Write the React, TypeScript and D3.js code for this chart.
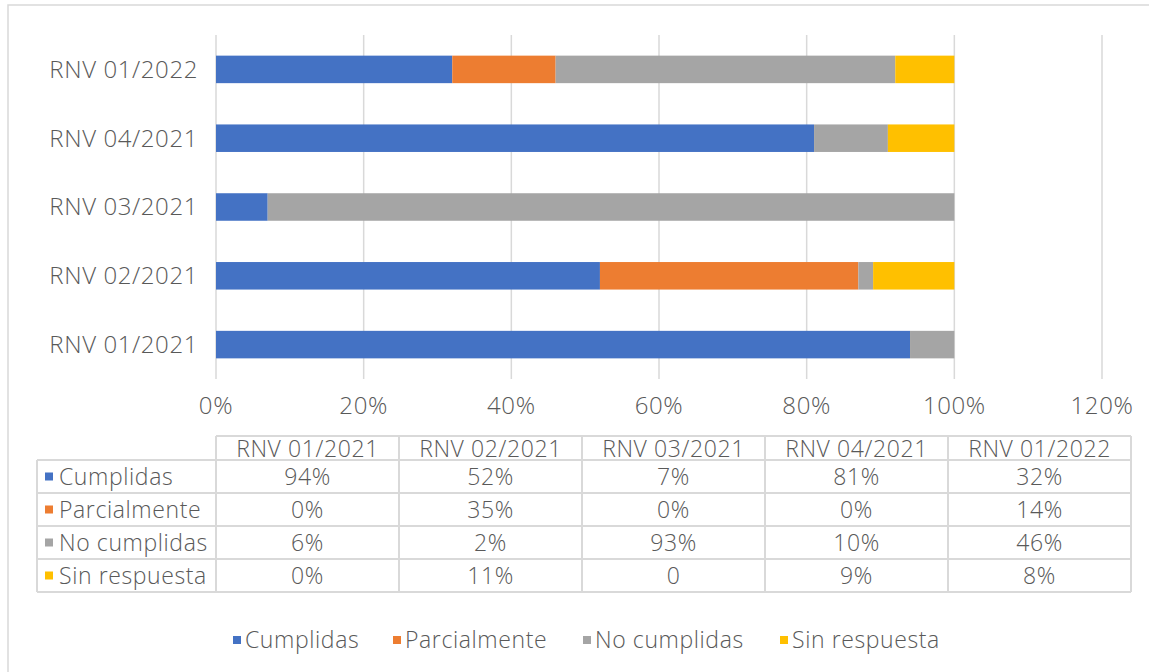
import * as d3 from 'd3'

const CATEGORIES = ['RNV 01/2021', 'RNV 02/2021', 'RNV 03/2021', 'RNV 04/2021', 'RNV 01/2022']
const SERIES = ['Cumplidas', 'Parcialmente', 'No cumplidas', 'Sin respuesta']
const COLORS = ['#4472C4', '#ED7D31', '#A5A5A5', '#FFC000']

const CUMPLIDAS = [94, 52, 7, 81, 32]
const PARCIALMENTE = [0, 35, 0, 0, 14]
const NO_CUMPLIDAS = [6, 2, 93, 10, 46]
const SIN_RESPUESTA = [0, 11, 0, 9, 8]
// table labels as printed (one cell shows a bare "0")
const SIN_RESPUESTA_LABELS = ['0%', '11%', '0', '9%', '8%']

const X_TICKS = [0, 20, 40, 60, 80, 100, 120]

const FONT = "'Open Sans', sans-serif"
const TEXT = '#595959'
const GRID = '#d9d9d9'

export default function App() {
  const width = 1149
  const height = 672

  const x = d3.scaleLinear().domain([0, 120]).range([216, 1102])
  // top category drawn first in Excel bar charts
  const y = d3.scaleBand()
    .domain([...CATEGORIES].reverse())
    .range([35, 379])
    .paddingInner(0.6)
    .paddingOuter(0.3)

  const rows = CATEGORIES.map((c, i) => ({
    cat: c,
    vals: [CUMPLIDAS[i], PARCIALMENTE[i], NO_CUMPLIDAS[i], SIN_RESPUESTA[i]]
  }))
  const stack = d3.stack<any>().keys(['0', '1', '2', '3']).value((d, k) => d.vals[+k])(rows)

  const tableLabels = [
    CUMPLIDAS.map(v => `${v}%`),
    PARCIALMENTE.map(v => `${v}%`),
    NO_CUMPLIDAS.map(v => `${v}%`),
    SIN_RESPUESTA_LABELS
  ]

  // data table geometry
  const colX = d3.scaleBand().domain(CATEGORIES).range([216, 1131])
  const headTop = 436
  const headBot = 460
  const rowY = d3.scaleBand().domain(SERIES).range([headBot, 592])
  const labelLeft = 37

  const legendX = [233, 393, 583, 780]

  const txt = { fontWeight: 300, fill: TEXT, letterSpacing: 0.6 }

  return (
    <svg width={width} height={height} style={{ position: 'absolute', left: 0, top: 0 }} fontFamily={FONT}>
      <rect x={0} y={0} width={width} height={height} fill="white" />
      <rect x={8} y={5} width={width + 10} height={height + 10} fill="white" stroke={GRID} strokeWidth={1.5} />

      {/* gridlines */}
      {X_TICKS.map(t => (
        <line key={t} x1={x(t)} x2={x(t)} y1={35} y2={379} stroke={GRID} strokeWidth={1.5} />
      ))}

      {/* bars */}
      {stack.map((s, si) => (
        <g key={si} fill={COLORS[si]}>
          {s.map((d, i) => (
            <rect key={i} x={x(d[0])} y={y(d.data.cat)} width={Math.max(0, x(d[1]) - x(d[0]))} height={y.bandwidth()} />
          ))}
        </g>
      ))}

      {/* category labels */}
      {CATEGORIES.map(c => (
        <text key={c} x={198} y={y(c)! + y.bandwidth() / 2} dy="0.35em" textAnchor="end" fontSize={24} {...txt}>{c}</text>
      ))}

      {/* x tick labels */}
      {X_TICKS.map(t => (
        <text key={t} x={x(t)} y={406} dy="0.35em" textAnchor="middle" fontSize={24} {...txt}>{t}%</text>
      ))}

      {/* data table */}
      <g stroke={GRID} strokeWidth={2} fill="none">
        <line x1={216} x2={1131} y1={headTop} y2={headTop} />
        <line x1={labelLeft} x2={1131} y1={headBot} y2={headBot} />
        {SERIES.map(s => (
          <line key={s} x1={labelLeft} x2={1131} y1={rowY(s)! + rowY.bandwidth()} y2={rowY(s)! + rowY.bandwidth()} />
        ))}
        <line x1={labelLeft} x2={labelLeft} y1={headBot} y2={592} />
        {CATEGORIES.map(c => (
          <line key={c} x1={colX(c)} x2={colX(c)} y1={headTop} y2={592} />
        ))}
        <line x1={1131} x2={1131} y1={headTop} y2={592} />
      </g>
      {CATEGORIES.map(c => (
        <text key={c} x={colX(c)! + colX.bandwidth() / 2} y={(headTop + headBot) / 2 + 1} dy="0.35em" textAnchor="middle" fontSize={23} {...txt}>{c}</text>
      ))}
      {SERIES.map((s, si) => {
        const cy = rowY(s)! + rowY.bandwidth() / 2
        return (
          <g key={s}>
            <rect x={45} y={cy - 4} width={8} height={8} fill={COLORS[si]} />
            <text x={59} y={cy} dy="0.35em" fontSize={23} {...txt}>{s}</text>
            {CATEGORIES.map((c, ci) => (
              <text key={c} x={colX(c)! + colX.bandwidth() / 2} y={cy} dy="0.35em" textAnchor="middle" fontSize={23} {...txt}>{tableLabels[si][ci]}</text>
            ))}
          </g>
        )
      })}

      {/* legend */}
      {SERIES.map((s, si) => (
        <g key={s}>
          <rect x={legendX[si]} y={636} width={8} height={8} fill={COLORS[si]} />
          <text x={legendX[si] + 12} y={640} dy="0.35em" fontSize={23} {...txt}>{s}</text>
        </g>
      ))}
    </svg>
  )
}
